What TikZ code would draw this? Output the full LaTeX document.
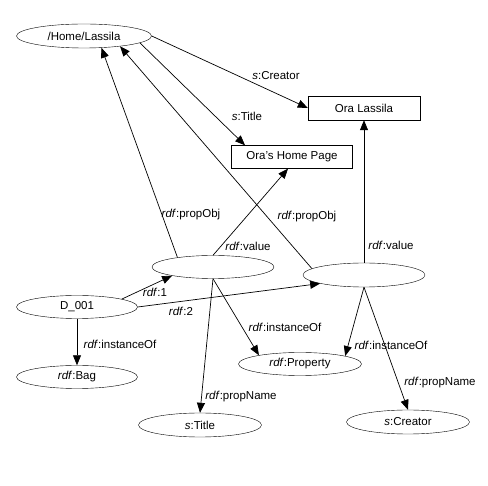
\documentclass[tikz,border=0pt]{standalone}
\usepackage{fontspec}
\setmainfont{Liberation Sans}
\usetikzlibrary{shapes.geometric, arrows.meta}

\tikzset{
  res/.style = {draw, ellipse, inner sep=0pt, minimum width=122pt, minimum height=23pt},
  lit/.style = {draw, rectangle, inner sep=0pt, minimum height=24pt},
  arc/.style = {-{Triangle[length=10pt, width=8pt]}, line width=0.7pt},
  lbl/.style = {inner sep=0pt}
}
\newcommand{\rdf}[1]{\textit{rdf}:#1}
\newcommand{\sch}[1]{\textit{s}:#1}

\begin{document}
\begin{tikzpicture}[x=1pt, y=-1pt, font=\fontsize{11.5}{13}\selectfont]
\useasboundingbox (0,0) rectangle (488,486);
% resources and literals
\node[res, minimum width=135pt, minimum height=24pt] (home) at (84,36) {/Home/Lassila};
\node[lit, minimum width=112pt] (lassila) at (364,108) {Ora Lassila};
\node[lit, minimum width=121pt, minimum height=23pt] (page) at (292,157) {Ora's Home Page};
\node[res] (bnodeA) at (213,267) {};
\node[res, minimum height=24pt] (bnodeB) at (364,275) {};
\node[res, minimum width=121pt] (dnode) at (77,307) {D\_001};
\node[res, minimum width=121pt] (bag) at (77,377) {\rdf{Bag}};
\node[res, minimum width=123pt] (prop) at (300,364) {\rdf{Property}};
\node[res, minimum width=123pt, minimum height=24pt] (stitle) at (200,425) {\sch{Title}};
\node[res, minimum width=123pt, minimum height=24pt] (screator) at (408,422) {\sch{Creator}};
% statements
\draw[arc] (home.east) -- (lassila.west);
\draw[arc] (home.-7) -- (page.166);
\draw[arc] (bnodeA.165) -- (home.-34);
\draw[arc] (bnodeB.173) -- (home.-16);
\draw[arc] (bnodeA.north) -- ([xshift=-4pt]page.south);
\draw[arc] (bnodeB.north) -- (lassila.south);
\draw[arc] (dnode.10) -- (bnodeA.192);
\draw[arc] (dnode.east) -- (bnodeB.191);
\draw[arc] (dnode.south) -- (bag.north);
\draw[arc] (bnodeA.south) -- (stitle.north);
\draw[arc] (bnodeA.south) -- (prop.168);
\draw[arc] (bnodeB.south) -- (prop.10);
\draw[arc] (bnodeB.south) -- (screator.north);
% property labels
\node[lbl] (l1) at (276,76) {\sch{Creator}};
\node[lbl] (l2) at (247,116) {\sch{Title}};
\node[lbl] (l3) at (191,215) {\rdf{propObj}};
\node[lbl] (l4) at (307,217) {\rdf{propObj}};
\node[lbl] (l5) at (248,246) {\rdf{value}};
\node[lbl] (l6) at (391,245) {\rdf{value}};
\node[lbl] (l7) at (155,292) {\rdf{1}};
\node[lbl] (l8) at (181,311) {\rdf{2}};
\node[lbl] (l9) at (120,344) {\rdf{instanceOf}};
\node[lbl] (l10) at (285,327) {\rdf{instanceOf}};
\node[lbl] (l11) at (391,345) {\rdf{instanceOf}};
\node[lbl] (l12) at (241,397) {\rdf{propName}};
\node[lbl] (l13) at (440,383) {\rdf{propName}};
\end{tikzpicture}
\end{document}
